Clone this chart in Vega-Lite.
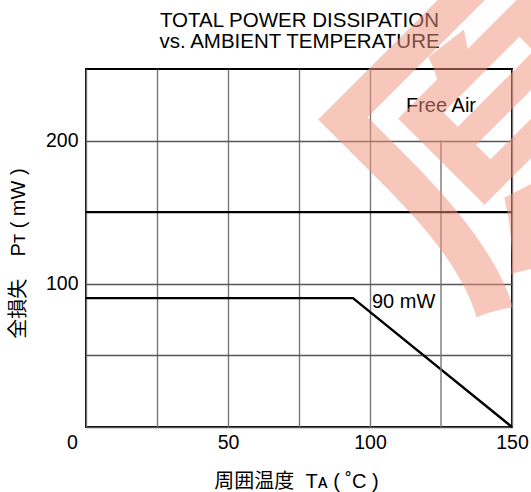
{
  "$schema": "https://vega.github.io/schema/vega-lite/v6.json",
  "width": 426,
  "height": 358,
  "autosize": {"type": "none"},
  "padding": {"left": 86, "top": 69, "right": 19, "bottom": 65},
  "background": "white",
  "config": {
    "view": {"stroke": "#000", "strokeWidth": 2},
    "font": "Liberation Sans"
  },
  "resolve": {"axis": {"x": "independent"}},
  "datasets": {
    "curve": [
      {"T": 0, "P": 90},
      {"T": 94, "P": 90},
      {"T": 150, "P": 0}
    ],
    "partialGrid": [{"T": 125, "P": 0, "P2": 200}],
    "heavyLine": [{"P": 150}],
    "ambient": [{"T": 125, "P": 224, "label": "Free Air"}],
    "rating": [{"T": 100, "P": 87.5, "label": "90 mW"}],
    "stamp": [{"T": 74.3, "P": 195.5, "label": "原"}]
  },
  "layer": [
    {
      "data": {"name": "curve"},
      "mark": {"type": "line", "color": "#000", "strokeWidth": 2.4, "clip": false},
      "encoding": {
        "x": {
          "field": "T",
          "type": "quantitative",
          "scale": {"domain": [0, 150], "nice": false},
          "axis": {
            "values": [0, 25, 50, 75, 100, 150],
            "labelExpr": "datum.value % 50 === 0 ? datum.label : ''",
            "grid": true,
            "gridColor": "#777",
            "gridWidth": 1.4,
            "domain": false,
            "ticks": false,
            "tickSize": 0,
            "labelPadding": 6,
            "labelFont": "Liberation Sans",
            "labelFontSize": 19.5,
            "labelColor": "#000",
            "labelFlush": false,
            "labelOverlap": false,
            "labelOffset": {"expr": "datum.value === 0 ? -14 : 0"},
            "title": "周囲温度\u00a0\u00a0Tᴀ ( ˚C )",
            "titleFont": "Liberation Sans, DejaVu Sans, Noto Sans CJK JP",
            "titleFontSize": 20,
            "titleFontWeight": "normal",
            "titleColor": "#000",
            "titlePadding": 20,
            "titleX": 210
          }
        },
        "y": {
          "field": "P",
          "type": "quantitative",
          "scale": {"domain": [0, 250], "nice": false},
          "axis": {
            "values": [0, 50, 100, 200],
            "labelExpr": "datum.value >= 100 ? datum.label : ''",
            "grid": true,
            "gridColor": "#555",
            "gridWidth": 1.4,
            "domain": false,
            "ticks": false,
            "tickSize": 0,
            "labelPadding": 8,
            "labelFont": "Liberation Sans",
            "labelFontSize": 19.5,
            "labelColor": "#000",
            "labelFlush": false,
            "labelOverlap": false,
            "title": "全損失\u00a0\u00a0\u00a0\u00a0Pᴛ ( mW )",
            "titleFont": "Liberation Sans, DejaVu Sans, Noto Sans CJK JP",
            "titleFontSize": 20,
            "titleFontWeight": "normal",
            "titleColor": "#000",
            "titlePadding": 17,
            "titleY": 184
          }
        }
      }
    },
    {
      "data": {"name": "partialGrid"},
      "mark": {"type": "rule", "color": "#777", "strokeWidth": 1.4},
      "encoding": {
        "x": {"field": "T", "type": "quantitative", "axis": null},
        "y": {"field": "P", "type": "quantitative"},
        "y2": {"field": "P2"}
      }
    },
    {
      "data": {"name": "heavyLine"},
      "mark": {"type": "rule", "color": "#000", "strokeWidth": 2.2},
      "encoding": {
        "y": {"field": "P", "type": "quantitative"}
      }
    },
    {
      "data": {"name": "ambient"},
      "mark": {"type": "text", "align": "center", "baseline": "middle", "fontSize": 20, "font": "Liberation Sans", "color": "#000"},
      "encoding": {
        "x": {
          "field": "T",
          "type": "quantitative",
          "axis": {
            "orient": "top",
            "labels": false,
            "ticks": false,
            "domain": false,
            "grid": false,
            "title": ["TOTAL POWER DISSIPATION", "vs. AMBIENT TEMPERATURE"],
            "titleFont": "Liberation Sans",
            "titleFontSize": 20.5,
            "titleFontWeight": "normal",
            "titleColor": "#000",
            "titleLineHeight": 21,
            "titlePadding": 18
          }
        },
        "y": {"field": "P", "type": "quantitative"},
        "text": {"field": "label"}
      }
    },
    {
      "data": {"name": "rating"},
      "mark": {"type": "text", "align": "left", "baseline": "middle", "dx": 2, "fontSize": 20, "font": "Liberation Sans", "color": "#000"},
      "encoding": {
        "x": {"field": "T", "type": "quantitative", "axis": null},
        "y": {"field": "P", "type": "quantitative"},
        "text": {"field": "label"}
      }
    },
    {
      "data": {"name": "stamp"},
      "mark": {"type": "text", "align": "left", "baseline": "top", "angle": 315, "fontSize": 310, "font": "Noto Sans CJK SC", "fontWeight": "bold", "color": "#f1937d", "opacity": 0.51},
      "encoding": {
        "x": {"field": "T", "type": "quantitative", "axis": null},
        "y": {"field": "P", "type": "quantitative"},
        "text": {"field": "label"}
      }
    }
  ]
}
